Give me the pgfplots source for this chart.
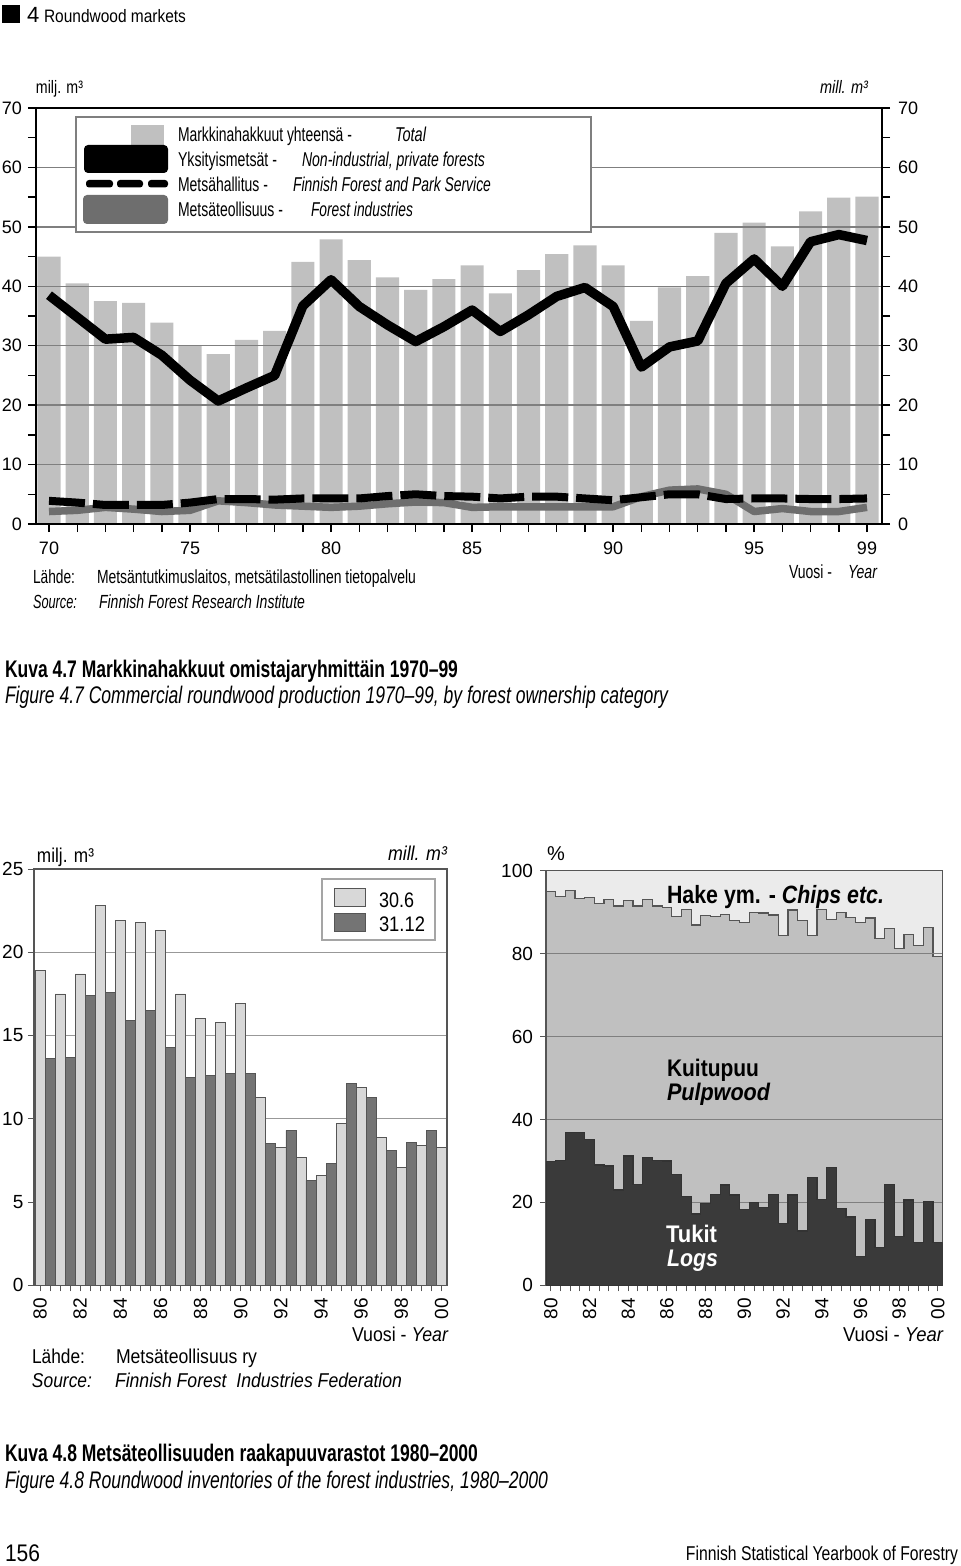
\documentclass[border=0pt]{standalone}
\usepackage{fontspec}
\setmainfont{Liberation Sans}
\usepackage{graphicx}
\usepackage{pgfplots}
\usepackage{pgfplotstable}
\pgfplotsset{compat=1.18}

\definecolor{barc}{HTML}{C0C0C0}
\definecolor{indc}{HTML}{6E6E6E}
\definecolor{lightb}{HTML}{D8D8D8}
\definecolor{darkb}{HTML}{747474}
\definecolor{chipc}{HTML}{EBEBEB}
\definecolor{pulpc}{HTML}{C0C0C0}
\definecolor{logc}{HTML}{3A3A3A}
\definecolor{gridc}{HTML}{7F7F7F}
\definecolor{framec}{HTML}{555555}

\newcommand\fitw[2]{\resizebox{#1}{\height}{#2}}
\newcommand\fsz[1]{\fontsize{#1}{#1}\selectfont}

% year given as 70 = 1970 ... 99 = 1999
\pgfplotstableread{
year total private mh ind
70 45.0 38.5 3.9 2.1
71 40.5 34.8 3.6 2.3
72 37.5 31.1 3.2 2.8
73 37.2 31.4 3.2 2.5
74 33.9 28.4 3.2 2.1
75 30.0 24.2 3.6 2.3
76 28.6 20.7 4.2 3.9
77 31.0 22.9 4.2 3.6
78 32.5 25.0 4.1 3.2
79 44.1 36.7 4.3 3.0
80 47.9 41.1 4.3 2.8
81 44.4 36.6 4.3 3.0
82 41.5 33.5 4.7 3.4
83 39.4 30.7 5.0 3.7
84 41.2 33.2 4.7 3.6
85 43.5 36.0 4.6 2.8
86 38.8 32.4 4.3 2.9
87 42.7 35.2 4.6 2.9
88 45.4 38.3 4.6 2.9
89 46.9 39.8 4.3 2.9
90 43.5 36.6 4.0 2.9
91 34.2 26.4 4.5 4.6
92 39.8 29.8 5.0 5.7
93 41.7 30.8 5.0 5.9
94 49.0 40.5 4.2 5.0
95 50.7 44.6 4.3 2.1
96 46.7 40.0 4.3 2.6
97 52.6 47.5 4.2 2.1
98 54.9 48.7 4.2 2.1
99 55.1 47.7 4.3 2.8
}\tabA

\pgfplotstableread{
i v
0 18.9
2 17.5
4 18.7
6 22.8
8 21.9
10 21.8
12 21.3
14 17.5
16 16.0
18 15.8
20 16.9
22 11.3
24 8.3
26 7.7
28 6.6
30 9.7
32 11.9
34 8.9
36 7.1
38 8.4
40 8.3
}\tabLight

\pgfplotstableread{
i v
1 13.6
3 13.7
5 17.4
7 17.6
9 15.9
11 16.5
13 14.3
15 12.5
17 12.6
19 12.7
21 12.7
23 8.5
25 9.3
27 6.3
29 7.3
31 12.1
33 11.3
35 8.1
37 8.6
39 9.3
}\tabDark

\pgfplotstableread{
x p l
-0.5 94.9 29.8
0.5 93.7 30.1
1.5 95.2 36.9
2.5 93.3 36.9
3.5 93.5 35.2
4.5 92.0 29.0
5.5 93.1 28.8
6.5 91.5 23.0
7.5 92.9 31.2
8.5 91.5 24.4
9.5 93.1 30.9
10.5 91.5 30.2
11.5 91.2 30.0
12.5 88.9 26.8
13.5 90.7 21.4
14.5 86.9 17.2
15.5 89.1 19.8
16.5 89.0 21.9
17.5 89.5 24.2
18.5 87.9 21.8
19.5 87.6 18.3
20.5 89.9 20.0
21.5 89.8 18.8
22.5 89.3 21.9
23.5 84.3 15.0
24.5 90.5 21.8
25.5 87.9 13.1
26.5 84.4 26.0
27.5 90.7 20.7
28.5 88.3 28.5
29.5 89.9 18.6
30.5 88.8 16.5
31.5 87.5 6.9
32.5 88.6 15.8
33.5 83.7 9.1
34.5 86.1 24.4
35.5 81.3 11.7
36.5 84.7 20.6
37.5 81.9 10.3
38.5 86.3 20.3
39.5 79.3 10.3
40.5 79.3 10.3
}\tabC

\pgfplotsset{
  chartone/.style={
    at={(18pt,-262pt)}, anchor=south west,
    width=423pt, height=208pt, scale only axis,
    xmin=69.539, xmax=99.532, ymin=0, ymax=70,
    axis line style={black, line width=0.8pt},
    ytick={0,10,...,70}, minor ytick={5,15,...,65},
    tick align=outside, major tick length=4pt, minor tick length=4pt,
    tick style={black, line width=0.7pt},
    tick label style={font=\fsz{9}},
    /pgf/number format/assume math mode=true,
  },
  chartthree/.style={
    at={(273pt,-642.65pt)}, anchor=south west,
    width=198.35pt, height=207.3pt, scale only axis,
    xmin=-0.5, xmax=40.5, ymin=0, ymax=100,
  },
}

\begin{document}
\begin{tikzpicture}
\useasboundingbox (0,0) rectangle (480pt,-783pt);

% ---------------- Chart 1 ----------------
% bars + right-hand scale
\begin{axis}[chartone,
  axis x line=none, axis y line*=right,
  yticklabel style={xshift=0.5pt},
]
\addplot[ybar, bar width=0.82, fill=barc, draw=none] table[x=year,y=total] {\tabA};
\end{axis}
% grid, lines, left scale, frame
\begin{axis}[chartone,
  xtick={70,...,99},
  xticklabels={70,,,,,75,,,,,80,,,,,85,,,,,90,,,,,95,,,,99},
  xtick pos=left, ytick pos=left,
  xticklabel style={yshift=-1.5pt},
  yticklabel style={xshift=0.5pt},
  ymajorgrids, major grid style={gridc, line width=0.7pt},
]
\addplot[indc, line width=3.75pt, line join=round] table[x=year,y=ind] {\tabA};
\addplot[black, line width=4pt, dash pattern=on 18pt off 4pt] table[x=year,y=mh] {\tabA};
\addplot[black, line width=4.75pt, line join=round] table[x=year,y=private] {\tabA};
\end{axis}

% ---------------- Chart 2 ----------------
\begin{axis}[
  at={(17pt,-642.65pt)}, anchor=south west,
  width=206.5pt, height=208.15pt, scale only axis,
  xmin=-0.6, xmax=40.55, ymin=0, ymax=25,
  axis line style={framec, line width=0.6pt},
  ytick={0,5,...,25}, ymajorgrids, major grid style={gridc!80, line width=0.5pt},
  xtick={0,...,40},
  xticklabels={80,,,,82,,,,84,,,,86,,,,88,,,,90,,,,92,,,,94,,,,96,,,,98,,,,00},
  xtick pos=left, ytick pos=left, tick align=outside, major tick length=3pt,
  tick style={framec, line width=0.5pt},
  tick label style={font=\fsz{9.5}},
  yticklabel style={xshift=1.2pt},
  xticklabel style={rotate=90, anchor=east},
  /pgf/number format/assume math mode=true,
]
\addplot[ybar, bar width=1, fill=lightb, draw=framec, line width=0.4pt] table[x=i,y=v] {\tabLight};
\addplot[ybar, bar width=1, fill=darkb, draw=framec, line width=0.4pt] table[x=i,y=v] {\tabDark};
\end{axis}

% ---------------- Chart 3 ----------------
\begin{axis}[chartthree, hide axis]
\addplot[fill=chipc, draw=none] coordinates {(-0.5,100) (40.5,100)} \closedcycle;
\addplot[const plot, fill=pulpc, draw=framec, line width=0.6pt] table[x=x,y=p] {\tabC} \closedcycle;
\end{axis}
\begin{axis}[chartthree,
  axis line style={framec, line width=0.7pt},
  ytick={0,20,...,100}, ymajorgrids, major grid style={gridc, line width=0.6pt},
  xtick={0,...,40},
  xticklabels={80,,,,82,,,,84,,,,86,,,,88,,,,90,,,,92,,,,94,,,,96,,,,98,,,,00},
  xtick pos=left, ytick pos=left, tick align=outside, major tick length=3pt,
  tick style={framec, line width=0.5pt},
  tick label style={font=\fsz{9.5}},
  xticklabel style={rotate=90, anchor=east},
  /pgf/number format/assume math mode=true,
]
\addplot[const plot, fill=logc, draw=black!80, line width=0.6pt] table[x=x,y=l] {\tabC} \closedcycle;
\end{axis}

% ---------------- Text and legends ----------------
\begin{scope}[x=0.5pt,y=-0.5pt, every node/.style={inner sep=0pt, outer sep=0pt}]
% header
\fill (2,5) rectangle (20,23);
\node[anchor=base west] at (27,23) {\fsz{11}4};
\node[anchor=base west] at (44,23) {\fitw{71pt}{\fsz{9}Roundwood markets}};

% chart 1 units
\node[anchor=base west] at (36,94) {\fitw{23.5pt}{\fsz{9}milj. m³}};
\node[anchor=base west] at (820,94) {\fitw{24pt}{\fsz{9}\itshape mill. m³}};
% chart 1 legend
\filldraw[fill=white, draw=gridc, line width=0.6pt] (76,117) rectangle (591,232);
\fill[barc] (131,125) rectangle (164,152);
\fill[black, rounded corners=2pt] (84,145) rectangle (168,173);
\fill[black, rounded corners=1.5pt] (86,180) rectangle (113,187.5);
\fill[black, rounded corners=1.5pt] (117,180) rectangle (143,187.5);
\fill[black, rounded corners=1.5pt] (148,180) rectangle (168,187.5);
\fill[indc, rounded corners=2pt] (83,195) rectangle (168,224);
\node[anchor=base west] at (178,141.5) {\fitw{87pt}{\fsz{10}Markkinahakkuut yhteensä -}};
\node[anchor=base west] at (395,141.5) {\fitw{15.5pt}{\fsz{10}\itshape Total}};
\node[anchor=base west] at (178,167) {\fitw{49.5pt}{\fsz{10}Yksityismetsät -}};
\node[anchor=base west] at (302,167) {\fitw{91.5pt}{\fsz{10}\itshape Non-industrial, private forests}};
\node[anchor=base west] at (178,191.7) {\fitw{45pt}{\fsz{10}Metsähallitus -}};
\node[anchor=base west] at (293,191.7) {\fitw{99pt}{\fsz{10}\itshape Finnish Forest and Park Service}};
\node[anchor=base west] at (178,216.7) {\fitw{52.5pt}{\fsz{10}Metsäteollisuus -}};
\node[anchor=base west] at (311,216.7) {\fitw{51pt}{\fsz{10}\itshape Forest industries}};
% chart 1 source
\node[anchor=base west] at (33,583.5) {\fitw{21pt}{\fsz{9.5}Lähde:}};
\node[anchor=base west] at (97,583.5) {\fitw{159.5pt}{\fsz{9.5}Metsäntutkimuslaitos, metsätilastollinen tietopalvelu}};
\node[anchor=base west] at (33,608) {\fitw{22pt}{\fsz{9.5}\itshape Source:}};
\node[anchor=base west] at (99,608) {\fitw{103pt}{\fsz{9.5}\itshape Finnish Forest Research Institute}};
\node[anchor=base west] at (789,578) {\fitw{21.5pt}{\fsz{9.5}Vuosi -}};
\node[anchor=base west] at (848,578) {\fitw{14.5pt}{\fsz{9.5}\itshape Year}};
% caption 1
\node[anchor=base west] at (5,677.5) {\fitw{226.5pt}{\fsz{12}\bfseries Kuva 4.7 Markkinahakkuut omistajaryhmittäin 1970–99}};
\node[anchor=base west] at (5,703.5) {\fitw{331.5pt}{\fsz{12}\itshape Figure 4.7 Commercial roundwood production 1970–99, by forest ownership category}};

% chart 2 texts
\node[anchor=base west] at (37,862) {\fitw{28.5pt}{\fsz{10}milj. m³}};
\node[anchor=base east] at (447,860) {\fitw{29.5pt}{\fsz{10}\itshape mill. m³}};
\filldraw[fill=white, draw=gridc!70, line width=0.6pt] (322,879) rectangle (435,940);
\filldraw[fill=lightb, draw=framec, line width=0.5pt] (334,888) rectangle (365,906);
\filldraw[fill=darkb, draw=framec, line width=0.5pt] (334,913) rectangle (365,931);
\node[anchor=base west] at (379,907) {\fitw{17.5pt}{\fsz{10.5}30.6}};
\node[anchor=base west] at (379,931.7) {\fitw{23pt}{\fsz{10.5}31.12}};
\node[anchor=base east] at (448,1341.7) {\fitw{48pt}{\fsz{10}Vuosi - \itshape Year}};
\node[anchor=base west] at (32,1363.3) {\fitw{26.5pt}{\fsz{10}Lähde:}};
\node[anchor=base west] at (116,1363.3) {\fitw{70.5pt}{\fsz{10}Metsäteollisuus ry}};
\node[anchor=base west] at (32,1387.3) {\fitw{30pt}{\fsz{10}\itshape Source:}};
\node[anchor=base west] at (115,1387.3) {\fitw{143.5pt}{\fsz{10}\itshape Finnish Forest\ \ Industries Federation}};

% chart 3 texts
\node[anchor=base west] at (547,860) {\fsz{10}\%};
\node[anchor=base west] at (667,903.3) {\fitw{108.5pt}{\fsz{12.5}\bfseries Hake ym. - \itshape Chips etc.}};
\node[anchor=base west] at (667,1076.7) {\fitw{46pt}{\fsz{12}\bfseries Kuitupuu}};
\node[anchor=base west] at (667,1100.7) {\fitw{51.5pt}{\fsz{12}\bfseries\itshape Pulpwood}};
\node[anchor=base west, text=white] at (666,1242.7) {\fitw{25.5pt}{\fsz{12}\bfseries Tukit}};
\node[anchor=base west, text=white] at (667,1266.7) {\fitw{25.5pt}{\fsz{12}\bfseries\itshape Logs}};
\node[anchor=base east] at (943,1341.7) {\fitw{50pt}{\fsz{10}Vuosi - \itshape Year}};

% caption 2
\node[anchor=base west] at (5,1461.5) {\fitw{236.5pt}{\fsz{12}\bfseries Kuva 4.8 Metsäteollisuuden raakapuuvarastot 1980–2000}};
\node[anchor=base west] at (5,1488.5) {\fitw{271.5pt}{\fsz{12}\itshape Figure 4.8 Roundwood inventories of the forest industries, 1980–2000}};
% footer
\node[anchor=base west] at (5,1561) {\fitw{17.5pt}{\fsz{12}156}};
\node[anchor=base east] at (958,1560) {\fitw{136pt}{\fsz{10}Finnish Statistical Yearbook of Forestry}};
\end{scope}
\end{tikzpicture}
\end{document}
